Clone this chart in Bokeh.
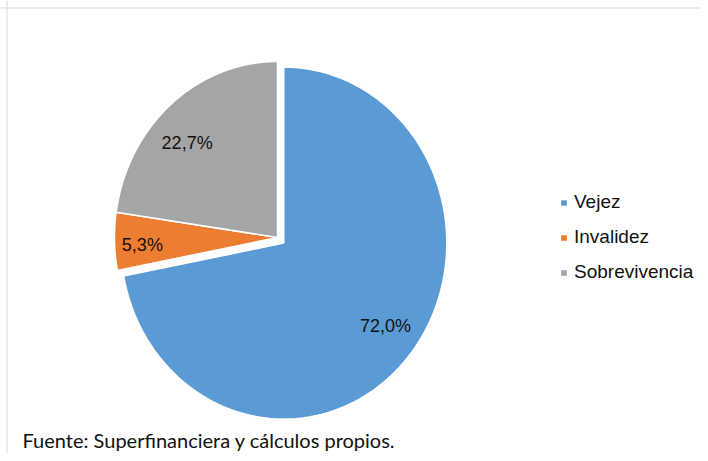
import numpy as np
from bokeh.plotting import figure
from bokeh.models import ColumnDataSource, Legend, LegendItem, Label, Span, Range1d
from bokeh.embed import file_html
from bokeh.resources import INLINE

# ---- data ----
categories = ["Vejez", "Invalidez", "Sobrevivencia"]
shares = [72.0, 5.3, 22.7]
labels = ["72,0%", "5,3%", "22,7%"]
colors = ["#5B9BD5", "#ED7D31", "#A5A5A5"]
explode = [0.05, 0.0, 0.0]
source_note = "Fuente: Superfinanciera y cálculos propios."

# ---- layout constants (pixels) ----
W, H = 700, 453
cx_px, cy_px = 277, 237          # pie centre in frame pixels (from left, from top)
rx_px, ry_px = 163, 176          # radius in pixels along x and y

x0 = -cx_px / rx_px
x1 = (W - cx_px) / rx_px
y0 = -(H - cy_px) / ry_px
y1 = cy_px / ry_px

p = figure(width=W, height=H, output_backend="svg", toolbar_location=None,
           x_range=Range1d(x0, x1), y_range=Range1d(y0, y1),
           min_border=0, min_border_left=0, min_border_right=0,
           min_border_top=0, min_border_bottom=0)
p.axis.visible = False
p.grid.visible = False
p.outline_line_color = None
p.background_fill_color = "white"
p.border_fill_color = "white"

total = sum(shares)
fracs = np.array(shares) / total
ends = np.cumsum(fracs)
starts = ends - fracs

xs, ys, lx, ly = [], [], [], []
label_r = [0.78, 0.83, 0.77]        # label distance from slice centre
label_turn = [2.7, 1.5, 5.2]        # small angular nudge of label (degrees)
for i, (s, e) in enumerate(zip(starts, ends)):
    # clockwise from 12 o'clock
    a0 = np.pi / 2 - 2 * np.pi * s
    a1 = np.pi / 2 - 2 * np.pi * e
    mid = (a0 + a1) / 2
    ox, oy = explode[i] * np.cos(mid), explode[i] * np.sin(mid)
    t = np.linspace(a0, a1, 200)
    xs.append(list(np.concatenate([[ox], ox + np.cos(t), [ox]])))
    ys.append(list(np.concatenate([[oy], oy + np.sin(t), [oy]])))
    la = mid + np.radians(label_turn[i])
    lx.append(ox + label_r[i] * np.cos(la))
    ly.append(oy + label_r[i] * np.sin(la))

src = ColumnDataSource(dict(xs=xs, ys=ys, color=colors, cat=categories))
r = p.patches("xs", "ys", source=src, fill_color="color", line_color="white",
              line_width=1.5)

lsrc = ColumnDataSource(dict(x=lx, y=ly, text=labels))
p.text("x", "y", text="text", source=lsrc, text_align="center",
       text_baseline="middle", text_font_size="18px",
       text_font={"value": "Liberation Sans"}, text_color="#111111")

# legend
items = [LegendItem(label=c, renderers=[r], index=i) for i, c in enumerate(categories)]
legend = Legend(items=items, location=(559, 170), orientation="vertical",
                label_text_font="Liberation Sans", label_text_font_size="19px",
                label_text_color="#111111", glyph_width=9, glyph_height=9,
                label_standoff=6, spacing=13, padding=0, margin=0,
                border_line_color=None, background_fill_alpha=0)
p.add_layout(legend, "center")

# source note
p.add_layout(Label(x=22, y=14, x_units="screen", y_units="screen",
                   text=source_note, text_font="Lato", text_font_size="20px",
                   text_baseline="alphabetic", text_color="#111111"))

# faint chart border (top and left)
p.add_layout(Span(location=y1 - 7.5 / ry_px, dimension="width",
                  line_color="#d9d9d9", line_width=1))
p.add_layout(Span(location=x0 + 6.5 / rx_px, dimension="height",
                  line_color="#d9d9d9", line_width=1))

open("out.html", "w").write(file_html(p, INLINE))
